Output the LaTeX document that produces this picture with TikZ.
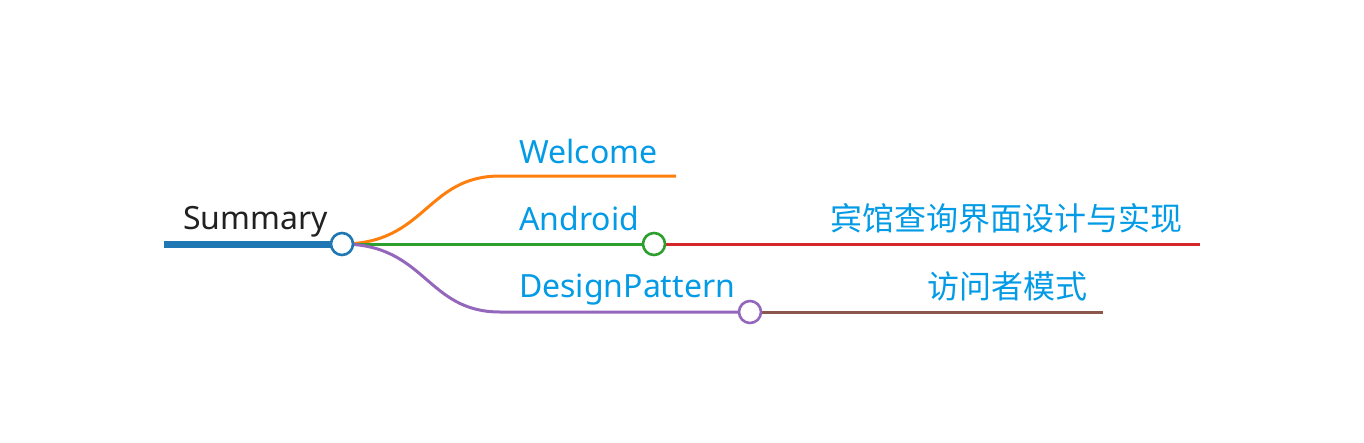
\documentclass[tikz,border=0pt]{standalone}
\usepackage{fontspec}
\setmainfont{Noto Sans}
\newfontfamily\cjk{Noto Sans CJK SC}
\definecolor{txtblue}{RGB}{3,155,229}
\definecolor{cblue}{RGB}{31,119,180}
\definecolor{corange}{RGB}{255,127,14}
\definecolor{cgreen}{RGB}{44,160,44}
\definecolor{cred}{RGB}{214,39,40}
\definecolor{cpurple}{RGB}{148,103,189}
\definecolor{cbrown}{RGB}{140,86,75}
\begin{document}
\begin{tikzpicture}[x=1pt,y=-1pt,
  lbl/.style={anchor=base west,inner sep=0pt,text=txtblue,font=\fontsize{32}{38}\selectfont},
  edge/.style={line width=3pt},
  dot/.style={circle,draw,line width=2.6pt,fill=white,minimum size=22pt,inner sep=0pt}]
\useasboundingbox (0,0) rectangle (1364,442);
% coordinates
\coordinate (r0) at (164,244);
\coordinate (c0) at (342,244);
\coordinate (w1) at (500,176);
\coordinate (w2) at (676,176);
\coordinate (c1) at (654,244);
\coordinate (a1) at (1200,244);
\coordinate (d1) at (500,312);
\coordinate (c2) at (750,312);
\coordinate (d2) at (1103,312);
% edges
\draw[cblue,line width=7pt] (r0) -- (c0);
\draw[edge,corange] (c0) .. controls (426,244) and (426,176) .. (w1) -- (w2);
\draw[edge,cgreen] (c0) -- (c1);
\draw[edge,cpurple] (c0) .. controls (426,244) and (426,312) .. (d1) -- (c2);
\draw[edge,cred] (c1) -- (a1);
\draw[edge,cbrown] (c2) -- (d2);
% dots
\node[dot,draw=cblue] (n0) at (c0) {};
\node[dot,draw=cgreen] (n1) at (c1) {};
\node[dot,draw=cpurple] (n2) at (c2) {};
% labels
\node[lbl,text=black!87] (tsum) at (183,229) {Summary};
\node[lbl] (twel) at (519,163) {Welcome};
\node[lbl] (tand) at (519,230) {Android};
\node[lbl] (tdes) at (519,297) {DesignPattern};
\node[lbl,font=\cjk\fontsize{32}{38}\selectfont] (thot) at (830,230) {宾馆查询界面设计与实现};
\node[lbl,font=\cjk\fontsize{32}{38}\selectfont] (tvis) at (927,298) {访问者模式};
\end{tikzpicture}
\end{document}
